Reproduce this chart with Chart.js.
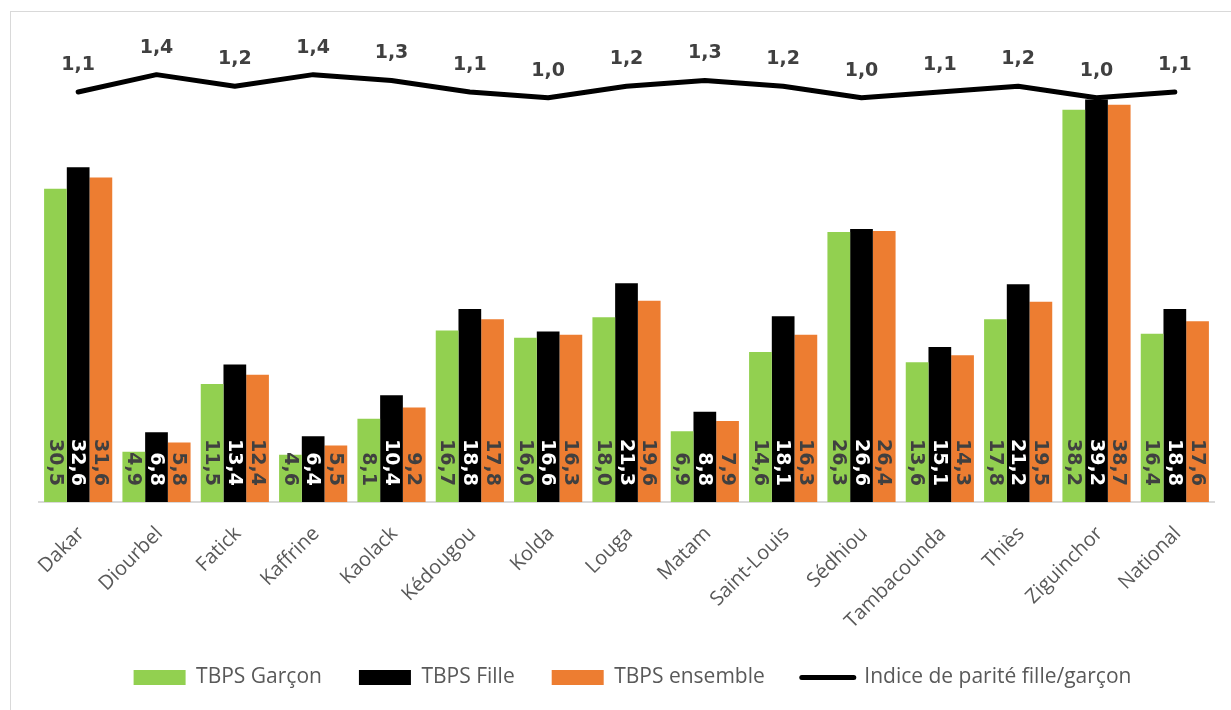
<!DOCTYPE html>
<html lang="fr">
<head>
<meta charset="utf-8">
<title>TBPS par région</title>
<script src="https://cdn.jsdelivr.net/npm/chart.js@4.4.1/dist/chart.umd.min.js"></script>
<style>
  html, body { margin: 0; padding: 0; background: #ffffff; }
  #wrap { width: 1231px; height: 710px; }
</style>
</head>
<body>
<div id="wrap"><canvas id="chart" width="1231" height="710"></canvas></div>
<script>
// Régions (axe des catégories)
const regions = ['Dakar', 'Diourbel', 'Fatick', 'Kaffrine', 'Kaolack', 'Kédougou', 'Kolda', 'Louga',
  'Matam', 'Saint-Louis', 'Sédhiou', 'Tambacounda', 'Thiès', 'Ziguinchor', 'National'];

// Taux brut de préscolarisation (%)
const tbpsGarcon   = [30.5, 4.9, 11.5, 4.6, 8.1, 16.7, 16.0, 18.0, 6.9, 14.6, 26.3, 13.6, 17.8, 38.2, 16.4];
const tbpsFille    = [32.6, 6.8, 13.4, 6.4, 10.4, 18.8, 16.6, 21.3, 8.8, 18.1, 26.6, 15.1, 21.2, 39.2, 18.8];
const tbpsEnsemble = [31.6, 5.8, 12.4, 5.5, 9.2, 17.8, 16.3, 19.6, 7.9, 16.3, 26.4, 14.3, 19.5, 38.7, 17.6];

// Indice de parité fille/garçon
const indiceParite = [1.1, 1.4, 1.2, 1.4, 1.3, 1.1, 1.0, 1.2, 1.3, 1.2, 1.0, 1.1, 1.2, 1.0, 1.1];

const fmt = v => v.toFixed(1).replace('.', ',');

// Cadre gris clair autour du graphique, et léger décalage de la légende
const framePlugin = {
  id: 'frame',
  afterLayout(chart) {
    if (chart.legend) { chart.legend.left += 6; chart.legend.right += 6; }
  },
  beforeDraw(chart) {
    const ctx = chart.ctx;
    ctx.save();
    ctx.fillStyle = '#ffffff';
    ctx.fillRect(0, 0, chart.width, chart.height);
    ctx.strokeStyle = '#d9d9d9';
    ctx.lineWidth = 1;
    ctx.strokeRect(10.5, 11.5, chart.width + 20, chart.height + 20);
    ctx.restore();
  }
};

// Étiquettes de valeurs : verticales en pied de barre, et au-dessus de la courbe
const valueLabels = {
  id: 'valueLabels',
  afterDatasetsDraw(chart) {
    const ctx = chart.ctx;
    ctx.save();
    ctx.font = 'bold 19px "DejaVu Sans", Verdana, sans-serif';
    chart.data.datasets.forEach((ds, i) => {
      const meta = chart.getDatasetMeta(i);
      if (meta.hidden) return;
      if (ds.type === 'line') {
        ctx.fillStyle = '#404040';
        ctx.textAlign = 'center';
        ctx.textBaseline = 'middle';
        meta.data.forEach((pt, j) => {
          ctx.fillText(fmt(ds.data[j]), pt.x, pt.y - 27);
        });
      } else {
        ctx.fillStyle = ds.labelColor;
        meta.data.forEach((bar, j) => {
          ctx.save();
          ctx.translate(bar.x, bar.base - 16);
          ctx.rotate(Math.PI / 2);
          ctx.textAlign = 'right';
          ctx.textBaseline = 'middle';
          ctx.fillText(fmt(ds.data[j]), 0, 1);
          ctx.restore();
        });
      }
    });
    ctx.restore();
  }
};

new Chart(document.getElementById('chart'), {
  data: {
    labels: regions,
    datasets: [
      { type: 'bar', label: 'TBPS Garçon', data: tbpsGarcon, backgroundColor: '#92D050',
        labelColor: '#404040', yAxisID: 'y', order: 1 },
      { type: 'bar', label: 'TBPS Fille', data: tbpsFille, backgroundColor: '#000000',
        labelColor: '#ffffff', yAxisID: 'y', order: 1 },
      { type: 'bar', label: 'TBPS ensemble', data: tbpsEnsemble, backgroundColor: '#ED7D31',
        labelColor: '#404040', yAxisID: 'y', order: 1 },
      { type: 'line', label: 'Indice de parité fille/garçon', data: indiceParite,
        borderColor: '#000000', backgroundColor: '#000000', borderWidth: 5,
        borderCapStyle: 'round', borderJoinStyle: 'round', pointRadius: 0,
        tension: 0, yAxisID: 'y1', order: 0 }
    ]
  },
  options: {
    responsive: false,
    animation: false,
    devicePixelRatio: 1,
    layout: { padding: { left: 39, right: 17, top: 40, bottom: 12 } },
    datasets: { bar: { categoryPercentage: 0.87, barPercentage: 1.0 } },
    scales: {
      x: {
        offset: true,
        grid: { display: false, drawTicks: false },
        border: { display: true, color: '#d9d9d9', width: 2 },
        ticks: {
          color: '#595959',
          font: { family: '"Open Sans", sans-serif', size: 20 },
          minRotation: 45, maxRotation: 45, padding: 20, labelOffset: 3, autoSkip: false
        },
        afterFit(scale) { scale.height = 128; scale.paddingLeft = 0; scale.paddingRight = 0; }
      },
      y: { display: false, min: 0, max: 45 },
      y1: { display: false, min: -6, max: 2, position: 'right' }
    },
    plugins: {
      tooltip: { enabled: false },
      legend: {
        position: 'bottom',
        labels: {
          color: '#595959',
          font: { family: '"Open Sans", sans-serif', size: 21 },
          usePointStyle: true,
          pointStyleWidth: 52,
          boxWidth: 52,
          boxHeight: 15,
          padding: 37,
          generateLabels(chart) {
            const items = Chart.defaults.plugins.legend.labels.generateLabels(chart);
            items.sort((a, b) => a.datasetIndex - b.datasetIndex);
            items.forEach(it => {
              const ds = chart.data.datasets[it.datasetIndex];
              if (ds.type === 'line') {
                it.pointStyle = 'line';
                it.lineWidth = 5;
                it.strokeStyle = '#000000';
                it.lineCap = 'round';
              } else {
                it.pointStyle = 'rect';
                it.lineWidth = 0;
                it.fillStyle = ds.backgroundColor;
              }
              it.fontColor = '#595959';
            });
            return items;
          }
        }
      }
    }
  },
  plugins: [framePlugin, valueLabels]
});
</script>
</body>
</html>
